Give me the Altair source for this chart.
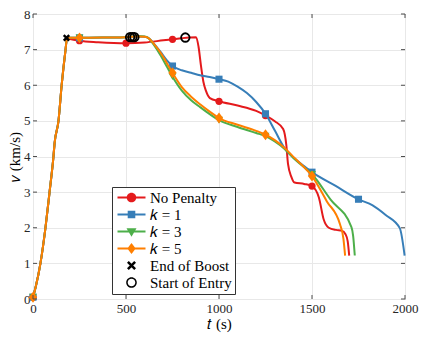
import altair as alt
import pandas as pd

# ---------------- data ----------------
# shared boost phase (t in s, v in km/s)
boost_t = [0, 15, 40, 67, 89, 110, 116, 137, 154, 175, 183]
boost_v = [0.05, 0.35, 1.0, 2.0, 3.0, 4.0, 4.37, 5.0, 6.0, 7.0, 7.33]

# No Penalty
np_t = [200, 250, 350, 500, 600, 700, 750, 800, 840, 877, 890, 903, 916, 930, 951,
        1000, 1100, 1200, 1250, 1300, 1345, 1362, 1371, 1389, 1406, 1458, 1500,
        1537, 1563, 1590, 1630, 1660, 1680, 1692, 1700]
np_v = [7.30, 7.25, 7.21, 7.18, 7.20, 7.26, 7.29, 7.32, 7.34, 7.35, 7.08, 6.55, 6.10, 5.84, 5.64,
        5.55, 5.43, 5.28, 5.15, 4.99, 4.77, 4.32, 3.79, 3.43, 3.27, 3.23, 3.17,
        2.85, 2.23, 2.00, 1.94, 1.92, 1.82, 1.62, 1.22]
np_mt = [0, 250, 500, 750, 1000, 1250, 1500]
np_mv = [0.05, 7.25, 7.18, 7.29, 5.55, 5.15, 3.17]

# k = 1
k1_t = [250, 400, 500, 560, 600, 627, 650, 688, 720, 750, 800, 850, 898, 950, 1000,
        1050, 1100, 1150, 1200, 1250, 1301, 1353, 1400, 1450, 1500, 1625, 1753,
        1826, 1896, 1972, 1998]
k1_v = [7.33, 7.34, 7.35, 7.37, 7.36, 7.30, 7.17, 6.92, 6.70, 6.54, 6.42, 6.35, 6.28, 6.23, 6.17,
        6.10, 5.96, 5.78, 5.53, 5.20, 4.72, 4.23, 3.97, 3.76, 3.56, 3.18, 2.79,
        2.63, 2.36, 1.99, 1.22]
k1_mt = [0, 250, 750, 1000, 1250, 1500, 1750]
k1_mv = [0.05, 7.33, 6.54, 6.17, 5.20, 3.56, 2.80]

# k = 3
k3_t = [250, 400, 500, 560, 600, 620, 650, 688, 720, 750, 800, 850, 900, 950, 1000,
        1100, 1200, 1250, 1300, 1353, 1400, 1450, 1500, 1600, 1712, 1721, 1730]
k3_v = [7.33, 7.34, 7.35, 7.38, 7.37, 7.33, 7.13, 6.82, 6.52, 6.24, 5.85, 5.58, 5.38, 5.19, 5.02,
        4.83, 4.66, 4.57, 4.42, 4.21, 3.96, 3.73, 3.50, 2.79, 2.02, 1.78, 1.22]
k3_mt = [0, 250, 750, 1000, 1250, 1500]
k3_mv = [0.05, 7.33, 6.24, 5.02, 4.57, 3.50]

# k = 5
k5_t = [250, 400, 500, 560, 600, 627, 650, 688, 720, 750, 800, 850, 900, 950, 1000,
        1100, 1200, 1250, 1300, 1353, 1400, 1450, 1500, 1580, 1651, 1669, 1678]
k5_v = [7.33, 7.34, 7.35, 7.37, 7.36, 7.30, 7.16, 6.90, 6.62, 6.35, 5.95, 5.68, 5.46, 5.26, 5.08,
        4.89, 4.72, 4.61, 4.46, 4.24, 3.99, 3.74, 3.45, 2.74, 2.09, 1.69, 1.22]
k5_mt = [0, 250, 750, 1000, 1250, 1500]
k5_mv = [0.05, 7.33, 6.35, 5.08, 4.61, 3.45]

# events
boost_end_t = [180]
boost_end_v = [7.33]
entry_t = [522, 534, 545, 819]
entry_v = [7.35, 7.35, 7.35, 7.34]

series_names = ["No Penalty", "𝑘 = 1", "𝑘 = 3", "𝑘 = 5"]
series_colors = ["#e41a1c", "#377eb8", "#4daf4a", "#ff7f00"]
legend_names = series_names + ["End of Boost", "Start of Entry"]
legend_colors = series_colors + ["#000000", "#000000"]

x_ticks = [0, 500, 1000, 1500, 2000]
y_ticks = [0, 1, 2, 3, 4, 5, 6, 7, 8]

W, H = 372, 285
FONT = "Liberation Serif"

# ---------------- encodings ----------------
xs = alt.Scale(domain=[0, 2000], nice=False, zero=False)
ys = alt.Scale(domain=[0, 8], nice=False, zero=False)
x_axis = alt.Axis(values=x_ticks, title="𝑡 (s)", labelFlush=False, labelOverlap=False,
                  labelPadding=3, titlePadding=1, format="d")
y_axis = alt.Axis(values=y_ticks, title="𝑣 (km/s)", labelFlush=False, labelOverlap=False,
                  labelPadding=3, titlePadding=1, format="d")
X = alt.X("t:Q", scale=xs, axis=x_axis)
Y = alt.Y("v:Q", scale=ys, axis=y_axis)

line_data = [
    (boost_t + np_t, boost_v + np_v),
    (boost_t + k1_t, boost_v + k1_v),
    (boost_t + k3_t, boost_v + k3_v),
    (boost_t + k5_t, boost_v + k5_v),
]
mark_data = [(np_mt, np_mv), (k1_mt, k1_mv), (k3_mt, k3_mv), (k5_mt, k5_mv)]
mark_shapes = ["circle", "square", "triangle-down", "M0,-1L0.75,0L0,1L-0.75,0Z"]
mark_sizes = [52, 50, 62, 120]

layers = []
for (lt, lv), (mt, mv), col, shp, sz in zip(line_data, mark_data, series_colors,
                                             mark_shapes, mark_sizes):
    ldf = pd.DataFrame({"t": lt, "v": lv})
    mdf = pd.DataFrame({"t": mt, "v": mv})
    layers.append(alt.Chart(ldf).mark_line(interpolate="monotone", strokeWidth=2,
                                          color=col).encode(x=X, y=Y))
    layers.append(alt.Chart(mdf).mark_point(shape=shp, filled=True, size=sz, color=col,
                                           opacity=1, strokeWidth=0).encode(x=X, y=Y))

x_path = "M-1,-1L1,1M1,-1L-1,1"
layers.append(alt.Chart(pd.DataFrame({"t": boost_end_t, "v": boost_end_v}))
              .mark_point(shape=x_path, filled=False, size=30, color="black",
                          strokeWidth=2.4, opacity=1).encode(x=X, y=Y))
layers.append(alt.Chart(pd.DataFrame({"t": entry_t, "v": entry_v}))
              .mark_point(shape="circle", filled=False, size=72, color="black",
                          strokeWidth=1.8, opacity=1).encode(x=X, y=Y))

# legend symbols: line segment + marker in one path; symbolSize 100 -> 5 px per unit,
# symbol box is 10 px wide, the path reaches out to the right to draw a 28 px sample
bar = "M-1,-0.2H4.6V0.2H-1Z"
leg_paths = [
    bar + "M0.84,0A0.96,0.96 0 1,1 2.76,0A0.96,0.96 0 1,1 0.84,0Z",
    bar + "M1.04,-0.76H2.56V0.76H1.04Z",
    bar + "M0.8,-0.65H2.8L1.8,1.05Z",
    bar + "M1.8,-1.12L2.64,0L1.8,1.12L0.96,0Z",
    "M1.26,-0.9L2.7,0.54L2.34,0.9L0.9,-0.54Z"
    "M2.7,-0.54L1.26,0.9L0.9,0.54L2.34,-0.9Z",
    "M0.74,0A1.06,1.06 0 1,1 2.86,0A1.06,1.06 0 1,1 0.74,0Z"
    "M1.04,0A0.76,0.76 0 1,0 2.56,0A0.76,0.76 0 1,0 1.04,0Z",
]
leg = alt.Legend(title=None, orient="none", legendX=79, legendY=173, direction="vertical",
                 fillColor="white", strokeColor="#333333", padding=3, cornerRadius=0,
                 symbolSize=100, symbolStrokeWidth=0, symbolOpacity=1,
                 labelFont=FONT, labelFontSize=15, labelColor="black", labelOffset=20,
                 rowPadding=1)
leg_df = pd.DataFrame({"name": legend_names, "t": [0] * 6, "v": [0] * 6})
layers.append(alt.Chart(leg_df).transform_filter("datum.t < -1")
              .mark_point(filled=True, opacity=1)
              .encode(x=X, y=Y,
                      color=alt.Color("name:N", scale=alt.Scale(domain=legend_names,
                                                                range=legend_colors), legend=leg),
                      shape=alt.Shape("name:N", scale=alt.Scale(domain=legend_names,
                                                                range=leg_paths), legend=leg)))

# inward tick marks on all four sides
xt = pd.DataFrame({"t": x_ticks})
yt = pd.DataFrame({"v": y_ticks})
tick_col = "#4d4d4d"
layers.append(alt.Chart(xt).mark_rule(color=tick_col, strokeWidth=1)
              .encode(x=X, y=alt.value(H), y2=alt.value(H - 4)))
layers.append(alt.Chart(xt).mark_rule(color=tick_col, strokeWidth=1)
              .encode(x=X, y=alt.value(0), y2=alt.value(4)))
layers.append(alt.Chart(yt).mark_rule(color=tick_col, strokeWidth=1)
              .encode(y=Y, x=alt.value(0), x2=alt.value(4)))
layers.append(alt.Chart(yt).mark_rule(color=tick_col, strokeWidth=1)
              .encode(y=Y, x=alt.value(W - 4), x2=alt.value(W)))

chart = (alt.layer(*layers)
         .properties(width=W, height=H,
                     autosize=alt.AutoSizeParams(type="none"),
                     padding={"left": 25, "top": 6, "right": 14, "bottom": 34})
         .configure_view(stroke="#4d4d4d", strokeWidth=1)
         .configure_axis(labelFont=FONT, labelFontSize=13, labelColor="#262626",
                         titleFont=FONT, titleFontSize=15, titleFontWeight="normal",
                         titleColor="black", gridColor="#e8e8e8", gridWidth=1,
                         domain=False, ticks=False)
         .configure_legend(strokeWidth=1))

chart.save("out.html", embed_options={"renderer": "svg", "actions": False})
